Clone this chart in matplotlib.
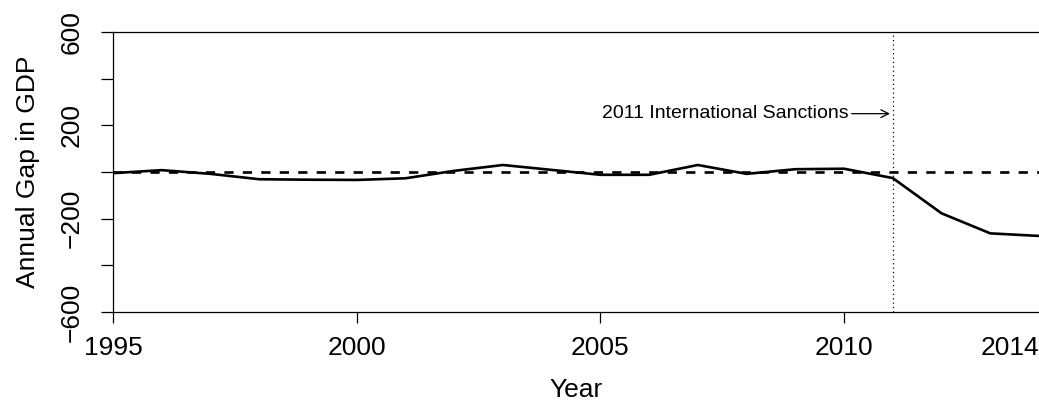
import matplotlib
matplotlib.use("Agg")
import matplotlib.pyplot as plt
import numpy as np


years = np.arange(1995, 2015)
gap = [-5, 8, -8, -31, -33, -34, -27, 5, 30, 9, -12, -12, 30, -8, 12, 14, -26, -177, -263, -274]

x_ticks = [1995, 2000, 2005, 2010]
y_ticks = [-600, -400, -200, 0, 200, 400, 600]
y_labels = ["\u2212600", "", "\u2212200", "", "200", "", "600"]

event_year = 2011
event_text = "2011 International Sanctions"


def main():
    plt.rcParams["font.family"] = ["Liberation Sans", "DejaVu Sans"]

    fig = plt.figure(figsize=(10.39, 4.03), dpi=100)
    ax = fig.add_axes([113 / 1039, 1 - 312 / 403, 1 - 113 / 1039, 280 / 403])

    ax.plot(years, gap, color="black", lw=1.9, solid_joinstyle="miter")
    ax.axhline(0, color="black", lw=1.9, ls=(0, (3.5, 3.5)))
    ax.axvline(event_year, color="black", lw=0.9, ls=(0, (1, 2.5)))

    ax.annotate("", xy=(event_year, 250), xytext=(event_year - 0.9, 250),
                arrowprops=dict(arrowstyle="->", color="black", lw=0.9,
                                mutation_scale=14))
    ax.text(event_year - 0.9, 250, event_text, ha="right", va="center", fontsize=14)

    ax.set_xlim(1995, 2014)
    ax.set_ylim(-600, 600)

    ax.set_xticks(x_ticks)
    ax.set_xticklabels([str(y) for y in x_ticks], fontsize=19)
    # last year label sits flush with the right edge, no tick mark
    ax.set_xticks([2014], minor=True)
    ax.set_xticklabels(["2014"], minor=True, fontsize=19, ha="right")

    ax.set_yticks(y_ticks)
    ax.set_yticklabels(y_labels, fontsize=19, rotation=90, va="center")

    ax.tick_params(axis="x", which="major", length=8, width=0.9, pad=9)
    ax.tick_params(axis="x", which="minor", length=0, pad=17)
    ax.tick_params(axis="y", length=9, width=0.9, pad=12)

    ax.spines["right"].set_visible(False)
    for s in ["left", "top", "bottom"]:
        ax.spines[s].set_linewidth(0.9)

    ax.set_xlabel("Year", fontsize=19, labelpad=13)
    ax.set_ylabel("Annual Gap in GDP", fontsize=19, labelpad=14)

    fig.savefig("out.png", dpi=100)


if __name__ == "__main__":
    main()
